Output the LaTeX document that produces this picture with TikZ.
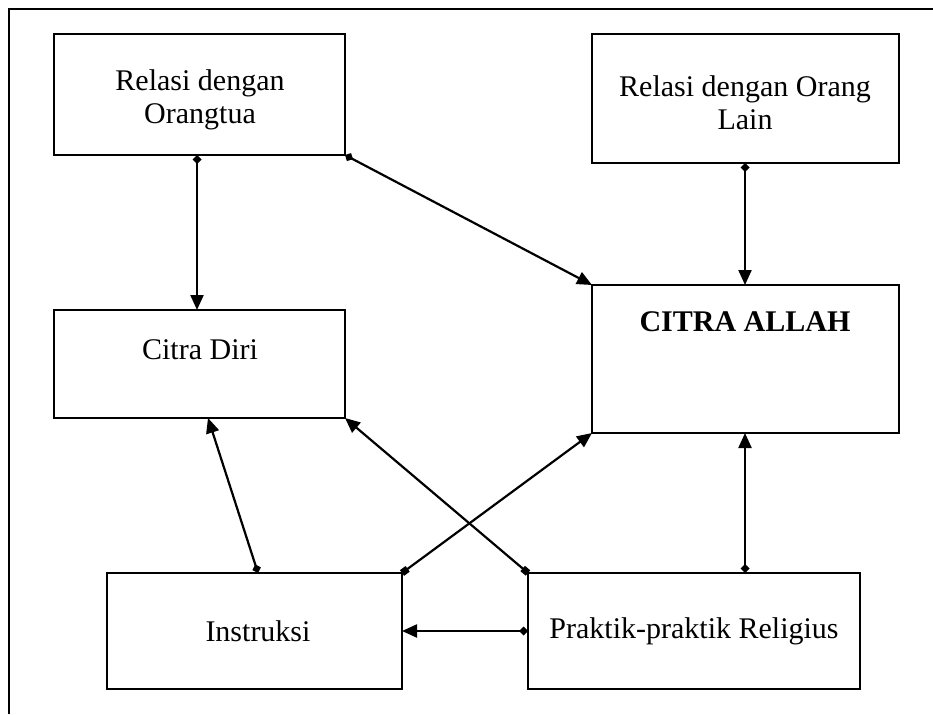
\documentclass[tikz,border=0pt]{standalone}
\usepackage{fontspec}
\setmainfont{Liberation Serif}
\usetikzlibrary{arrows.meta}
\begin{document}
\begin{tikzpicture}[x=1pt,y=-1pt,
  box/.style={draw, line width=2.8pt},
  lbl/.style={font=\fontsize{30}{33}\selectfont, align=center, inner sep=0pt},
  conn/.style={line width=2.2pt, {Diamond[length=9pt,width=9pt]}-{Triangle[length=15pt,width=13pt]}},
  connsq/.style={line width=2.2pt, {Square[length=7pt,width=7pt]}-{Triangle[length=15pt,width=13pt]}}
]
\useasboundingbox (0,0) rectangle (933,714);
\draw[line width=1.5pt] (9,714) -- (9,9) -- (933,9);
% boxes
\draw[box] (54,34) rectangle (345,155);
\draw[box] (592,34) rectangle (899,163);
\draw[box] (54,310) rectangle (345,418);
\draw[box] (592,285) rectangle (899,433);
\draw[box] (107,573) rectangle (402,689);
\draw[box] (528,573) rectangle (860,689);
% labels
\node[lbl] (ta) at (200,100) {Relasi dengan\\Orangtua};
\node[lbl] (tb) at (745,103) {Relasi dengan Orang\\Lain};
\node[lbl] (tc) at (200,350) {Citra Diri};
\node[lbl, font=\fontsize{30}{33}\selectfont\bfseries] (td) at (745,322) {CITRA ALLAH};
\node[lbl] (te) at (258,631) {Instruksi};
\node[lbl] (tf) at (694,631) {Praktik-praktik Religius};
% anchor coordinates
\coordinate (aB) at (197,155);
\coordinate (aC) at (345,155);
\coordinate (bB) at (745,163);
\coordinate (cT) at (197,310);
\coordinate (cB) at (208,418);
\coordinate (cC) at (345,418);
\coordinate (dT) at (745,285);
\coordinate (dTL) at (592,285);
\coordinate (dBL) at (592,433);
\coordinate (dB) at (745,433);
\coordinate (eT) at (258,573);
\coordinate (eTR) at (402,573);
\coordinate (eR) at (402,631);
\coordinate (fTL) at (528,573);
\coordinate (fT) at (745,573);
\coordinate (fL) at (528,631);
% connectors
\draw[conn] (aB) -- (cT);
\draw[conn] (aC) -- (dTL);
\draw[conn] (bB) -- (dT);
\draw[conn] (eT) -- (cB);
\draw[connsq] (eTR) -- (dBL);
\draw[connsq] (fTL) -- (cC);
\draw[conn] (fT) -- (dB);
\draw[conn] (fL) -- (eR);
\end{tikzpicture}
\end{document}
